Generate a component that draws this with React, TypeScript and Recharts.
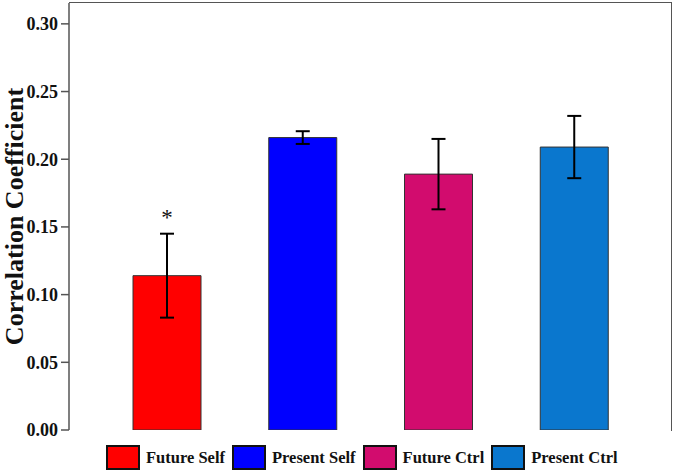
import {
  Bar,
  BarChart,
  Cell,
  ErrorBar,
  Label,
  LabelList,
  Legend,
  XAxis,
  YAxis,
} from "recharts";

const categories = ["Future Self", "Present Self", "Future Ctrl", "Present Ctrl"];
const values = [0.114, 0.216, 0.189, 0.209];
const errors = [0.031, 0.0047, 0.026, 0.023];
const marks = ["*", "", "", ""];
const yTicks = [0, 0.05, 0.1, 0.15, 0.2, 0.25, 0.3];

const COLORS = ["#ff0000", "#0000ff", "#d20c6e", "#0a77ce"];
const FONT = '"Liberation Serif", "Times New Roman", serif';
const AXIS = "#555";

const data = categories.map((name, i) => ({
  name,
  value: values[i],
  err: errors[i],
  mark: marks[i],
}));

function YLabel(props: any) {
  const vb = props.viewBox || {};
  const x = vb.x + 23;
  const y = vb.y + vb.height / 2;
  return (
    <text
      x={x}
      y={y}
      transform={`rotate(-90, ${x}, ${y})`}
      textAnchor="middle"
      fontFamily={FONT}
      fontWeight="bold"
      fontSize={26}
      fill="#111"
    >
      Correlation Coefficient
    </text>
  );
}

function LegendBox() {
  return (
    <div
      style={{
        display: "flex",
        alignItems: "center",
        justifyContent: "flex-start",
        gap: 7,
        paddingLeft: 106,
        fontFamily: FONT,
        fontWeight: "bold",
        fontSize: 16.5,
        color: "#111",
      }}
    >
      {categories.map((c, i) => (
        <div key={c} style={{ display: "flex", alignItems: "center", gap: 6 }}>
          <span
            style={{
              width: 30,
              height: 21,
              background: COLORS[i],
              border: "2px solid #111",
              display: "inline-block",
            }}
          />
          <span>{c}</span>
        </div>
      ))}
    </div>
  );
}

export default function App() {
  return (
    <div style={{ position: "absolute", left: 0, top: 0, width: 675, height: 472, background: "#fff" }}>
      <BarChart
        width={675}
        height={472}
        data={data}
        margin={{ top: 3, right: 3, left: 0, bottom: 42 }}
        barSize={68}
      >
        <XAxis
          dataKey="name"
          tick={false}
          tickLine={false}
          height={0}
          padding={{ left: 30, right: 30 }}
          axisLine={{ stroke: AXIS, strokeWidth: 1.5 }}
        />
        <YAxis
          width={69}
          domain={[0, 0.3154]}
          ticks={yTicks}
          tickFormatter={(v: number) => v.toFixed(2)}
          tickSize={8}
          tickMargin={3}
          tickLine={{ stroke: AXIS, strokeWidth: 1.5 }}
          axisLine={{ stroke: AXIS, strokeWidth: 1.5 }}
          tick={{ fontFamily: FONT, fontWeight: "bold", fontSize: 18, fill: "#111" }}
          allowDataOverflow
        >
          <Label content={<YLabel />} />
        </YAxis>
        <Legend
          layout="horizontal"
          verticalAlign="middle"
          align="center"
          content={<LegendBox />}
          wrapperStyle={{ top: 445, left: 0, width: 675, height: 27 }}
        />
        <Bar dataKey="value" stroke="#333" strokeWidth={1} isAnimationActive={false}>
          {data.map((d, i) => (
            <Cell key={d.name} fill={COLORS[i]} />
          ))}
          <ErrorBar dataKey="err" width={7} stroke="#000" strokeWidth={2} />
          <LabelList
            dataKey="mark"
            position="top"
            offset={51}
            style={{ fontFamily: FONT, fontSize: 23, fill: "#111" }}
          />
        </Bar>
      </BarChart>
      <div
        style={{
          position: "absolute",
          left: 69,
          top: 2,
          width: 602,
          height: 428,
          borderTop: `1.5px solid ${AXIS}`,
          borderRight: `1.5px solid ${AXIS}`,
          pointerEvents: "none",
        }}
      />
    </div>
  );
}
